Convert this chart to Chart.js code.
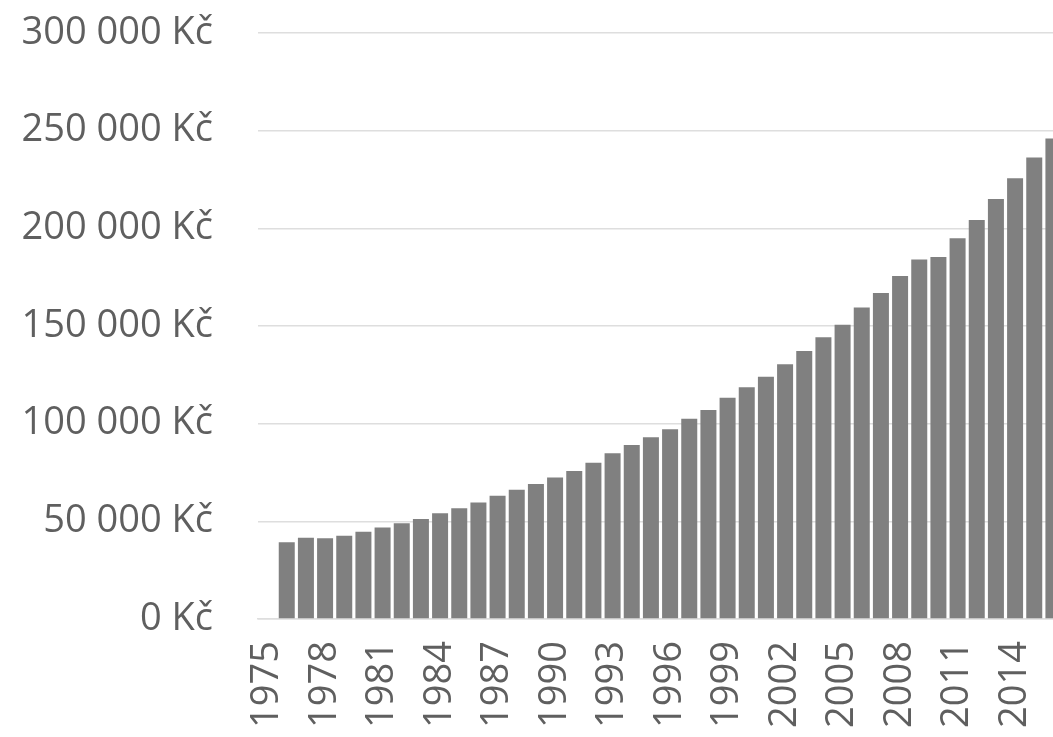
<!DOCTYPE html>
<html>
<head>
<meta charset="utf-8">
<script src="https://cdn.jsdelivr.net/npm/chart.js@4.4.1/dist/chart.umd.min.js"></script>
<style>
  html, body { margin: 0; padding: 0; background: #ffffff; overflow: hidden; width: 1053px; height: 737px; }
  #wrap { position: relative; width: 1080px; height: 737px; }
</style>
</head>
<body>
<div id="wrap"><canvas id="c" width="1080" height="737"></canvas></div>
<script>
// Years (categories)
const years = [
  1975, 1976, 1977, 1978, 1979, 1980, 1981, 1982, 1983, 1984,
  1985, 1986, 1987, 1988, 1989, 1990, 1991, 1992, 1993, 1994,
  1995, 1996, 1997, 1998, 1999, 2000, 2001, 2002, 2003, 2004,
  2005, 2006, 2007, 2008, 2009, 2010, 2011, 2012, 2013, 2014,
  2015, 2016
];
// Values in Kč (1975 has no bar)
const values = [
  null, 39300, 41600, 41300, 42600, 44700, 46900, 49000, 51200, 54100,
  56700, 59700, 63100, 66200, 69100, 72500, 75800, 80000, 84800, 89100,
  93000, 97100, 102500, 107000, 113300, 118600, 124000, 130400, 137200, 144200,
  150700, 159500, 166900, 175600, 184100, 185300, 194900, 204300, 215000, 225600,
  236300, 246000
];
// Y-axis ticks
const yMin = 0, yMax = 300000, yStep = 50000;
const labelEvery = 3;

function fmtKc(v) {
  return String(Math.round(v)).replace(/\B(?=(\d{3})+(?!\d))/g, ' ') + ' Kč';
}

const textColor = '#5f5f5f';
const gridColor = '#dedede';
const fontFamily = '"Open Sans", "DejaVu Sans", sans-serif';

function noPad(scale) {
  scale.paddingTop = 0; scale.paddingBottom = 0;
  scale.paddingLeft = 0; scale.paddingRight = 0;
}

new Chart(document.getElementById('c'), {
  type: 'bar',
  data: {
    labels: years.map(String),
    datasets: [{
      data: values,
      backgroundColor: '#808080',
      borderWidth: 0,
      categoryPercentage: 1.0,
      barPercentage: 0.835
    }]
  },
  options: {
    responsive: false,
    animation: false,
    events: [],
    layout: { padding: { top: 33, right: 17, bottom: 0, left: 0 } },
    plugins: { legend: { display: false }, tooltip: { enabled: false } },
    scales: {
      x: {
        offset: true,
        grid: { display: false, drawTicks: false },
        border: { display: true, color: gridColor, width: 1.5 },
        ticks: {
          autoSkip: false,
          maxRotation: 90,
          minRotation: 90,
          padding: 22,
          color: textColor,
          font: { family: fontFamily, size: 38 },
          callback: function(val, idx) { return idx % labelEvery === 0 ? this.getLabelForValue(val) : ''; }
        },
        afterFit: function(scale) { scale.height = 118; noPad(scale); }
      },
      y: {
        min: yMin,
        max: yMax,
        grid: { color: gridColor, lineWidth: 1.5, drawTicks: false },
        border: { display: false },
        ticks: {
          stepSize: yStep,
          padding: 45,
          color: textColor,
          font: { family: fontFamily, size: 38 },
          callback: function(v) { return fmtKc(v); }
        },
        afterFit: function(scale) { scale.width = 258; noPad(scale); }
      }
    }
  }
});
</script>
</body>
</html>
